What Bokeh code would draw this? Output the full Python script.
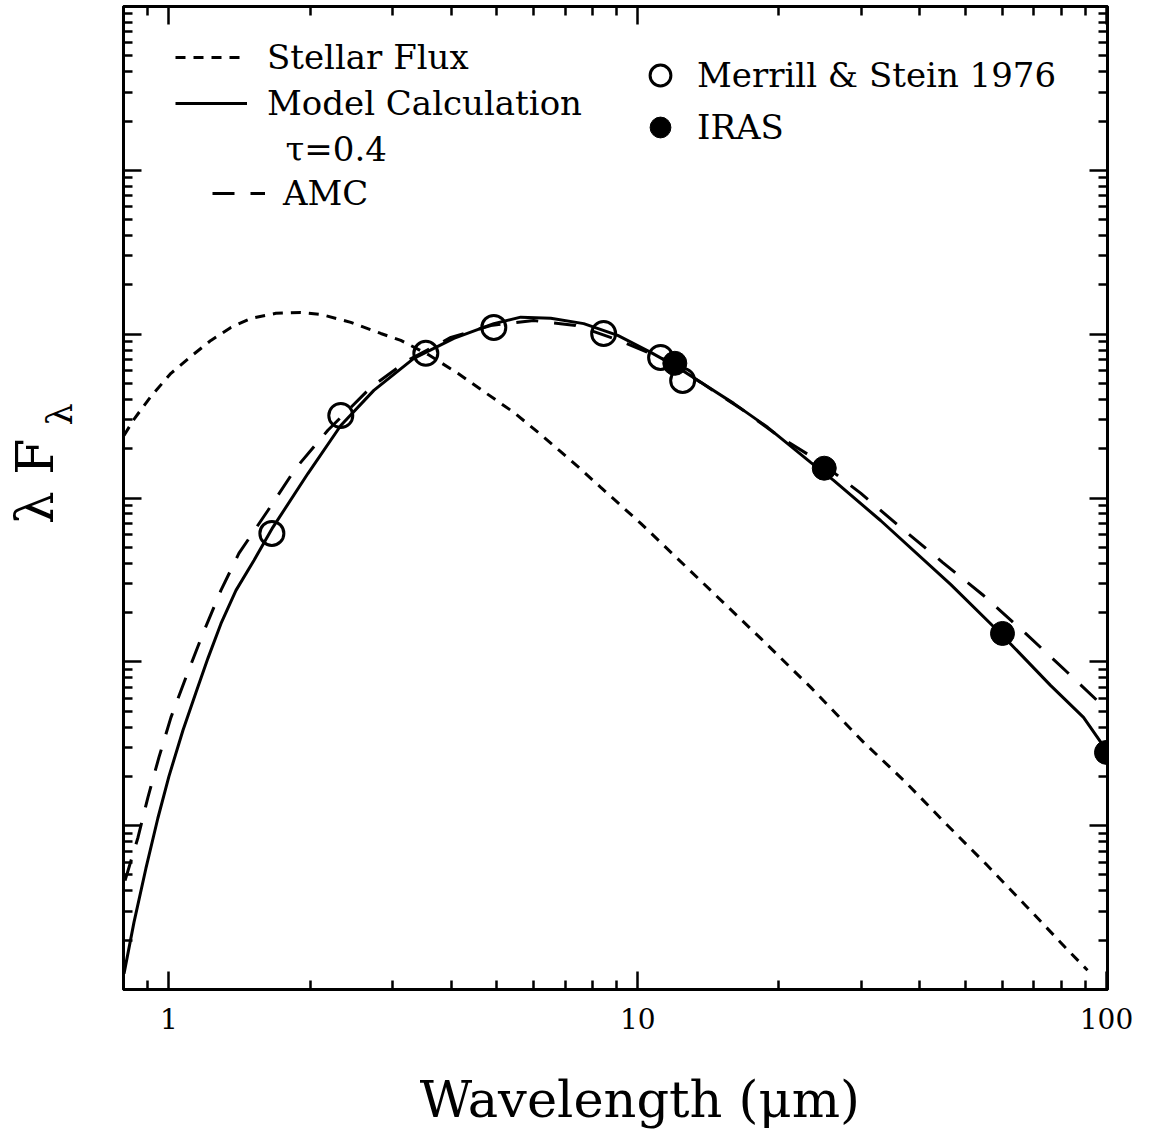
import math
from bokeh.plotting import figure
from bokeh.models import (Range1d, LogAxis, FixedTicker, CustomJSTickFormatter,
                          Legend, LegendItem, Label)
from bokeh.embed import file_html
from bokeh.resources import INLINE

# ---------------- data (wavelength in micron, lambda*F_lambda in arbitrary units) ----
sf_wl = [0.802, 0.842, 0.915, 1.01, 1.114, 1.229, 1.356, 1.496, 1.691, 1.911,
         2.109, 2.444, 2.831, 3.124, 3.566, 4.133, 4.626, 5.44, 6.21, 6.85,
         7.56, 8.34, 9.20, 10.15, 13.6, 18.3, 23.4, 30.2, 37.3, 45.4,
         55.2, 67.2, 81.8, 91.1]
sf_flux = [2.41e-2, 3.02e-2, 4.17e-2, 5.77e-2, 7.31e-2, 9.16e-2, 0.110, 0.1247, 0.134, 0.1358,
           0.132, 0.118, 0.101, 9.16e-2, 7.53e-2, 5.77e-2, 4.60e-2, 3.33e-2, 2.44e-2, 1.92e-2,
           1.50e-2, 1.16e-2, 9.02e-3, 7.00e-3, 3.14e-3, 1.39e-3, 6.98e-4, 3.27e-4, 1.84e-4, 1.03e-4,
           5.87e-5, 3.26e-5, 1.80e-5, 1.31e-5]

model_wl = [0.802, 0.842, 0.893, 0.947, 1.0, 1.071, 1.142, 1.211, 1.291, 1.39,
            1.518, 1.666, 1.979, 2.326, 2.736, 3.33, 4.053, 4.932, 5.629, 6.524,
            7.671, 9.066, 10.66, 12.17, 13.63, 16.02, 18.93, 23.38, 26.18, 32.97,
            46.5, 59.43, 75.96, 89.33, 100.0]
model_flux = [1.25e-5, 2.56e-5, 5.48e-5, 1.11e-4, 2.00e-4, 3.81e-4, 6.50e-4, 1.05e-3, 1.71e-3, 2.73e-3,
              4.16e-3, 6.62e-3, 1.41e-2, 2.77e-2, 4.54e-2, 7.11e-2, 9.42e-2, 0.116, 0.127, 0.125,
              0.116, 9.84e-2, 7.74e-2, 6.27e-2, 5.08e-2, 3.78e-2, 2.70e-2, 1.65e-2, 1.28e-2, 7.29e-3,
              2.97e-3, 1.49e-3, 7.18e-4, 4.58e-4, 2.88e-4]

amc_wl = [0.806, 0.859, 0.902, 0.952, 1.01, 1.087, 1.182, 1.291, 1.41, 1.626,
          1.865, 2.183, 2.696, 3.234, 3.994, 4.86, 6.0, 7.375, 8.889, 11.19,
          13.63, 16.58, 19.89, 24.56, 29.89, 36.37, 44.7, 54.67, 67.2, 82.58, 99.5]
amc_flux = [4.62e-5, 8.47e-5, 1.49e-4, 2.61e-4, 4.58e-4, 8.04e-4, 1.49e-3, 2.73e-3, 4.59e-3, 8.39e-3,
            1.52e-2, 2.59e-2, 4.73e-2, 6.92e-2, 9.55e-2, 0.113, 0.121, 0.113, 9.42e-2, 7.21e-2,
            5.08e-2, 3.52e-2, 2.41e-2, 1.65e-2, 1.07e-2, 6.62e-3, 4.05e-3, 2.54e-3, 1.49e-3, 8.61e-4,
            5.20e-4]

ms_wl = [1.658, 2.326, 3.532, 4.932, 8.46, 11.19, 12.47]
ms_flux = [6.08e-3, 3.19e-2, 7.64e-2, 0.110, 0.101, 7.21e-2, 5.22e-2]

iras_wl = [12, 25, 60, 100]
iras_flux = [6.64e-2, 1.52e-2, 1.49e-3, 2.80e-4]

x_major = [1, 10, 100]
y_decades = list(range(-5, 2))

FONT = "DejaVu Serif"
NBSP = "\u00a0"

# ---------------- figure ----------------
p = figure(width=1149, height=1133, x_axis_type="log", y_axis_type="log",
           x_range=Range1d(0.8, 100.5), y_range=Range1d(1e-5, 10),
           output_backend="svg", toolbar_location=None,
           min_border_left=123, min_border_right=42, min_border_top=6, min_border_bottom=144)
p.grid.visible = False
p.background_fill_color = "white"
p.border_fill_color = "white"
p.outline_line_color = "black"
p.outline_line_width = 3

bottom_ax = p.below[0]
left_ax = p.left[0]

xticker = FixedTicker(ticks=x_major,
                      minor_ticks=[0.9] + [k * 10.0 ** d for d in (0, 1) for k in range(2, 10)])
yticker = FixedTicker(ticks=[10.0 ** d for d in y_decades],
                      minor_ticks=[k * 10.0 ** d for d in y_decades[:-1] for k in range(2, 10)])

top_ax = LogAxis()
right_ax = LogAxis()
p.add_layout(top_ax, "above")
p.add_layout(right_ax, "right")

for ax, tk in [(bottom_ax, xticker), (top_ax, xticker), (left_ax, yticker), (right_ax, yticker)]:
    ax.ticker = tk
    ax.axis_line_width = 3
    ax.axis_line_color = "black"
    ax.major_tick_in = 18
    ax.major_tick_out = 0
    ax.minor_tick_in = 9
    ax.minor_tick_out = 0
    ax.major_tick_line_width = 2.5
    ax.minor_tick_line_width = 2.5
    ax.major_tick_line_color = "black"
    ax.minor_tick_line_color = "black"

for ax in (top_ax, left_ax, right_ax):
    ax.formatter = CustomJSTickFormatter(code="return ''")
    ax.major_label_standoff = 0
    ax.major_label_text_font_size = "0px"

bottom_ax.formatter = CustomJSTickFormatter(code="return String(Math.round(tick))")
bottom_ax.major_label_text_font = FONT
bottom_ax.major_label_text_font_size = "28px"
bottom_ax.major_label_text_color = "black"
bottom_ax.major_label_standoff = 18
bottom_ax.axis_label = NBSP * 3 + "Wavelength (μm)"
bottom_ax.axis_label_standoff = 38
bottom_ax.axis_label_text_font = FONT
bottom_ax.axis_label_text_font_size = "51px"
bottom_ax.axis_label_text_font_style = "normal"
bottom_ax.axis_label_text_color = "black"

# y-axis title: "λ F" with a subscript λ (the subscript is carried by a bare helper axis)
label_ax = LogAxis(ticker=FixedTicker(ticks=[0.0324], minor_ticks=[]),
                   formatter=CustomJSTickFormatter(code="return 'λ'"),
                   axis_line_color=None, major_tick_line_color=None, minor_tick_line_color=None,
                   major_tick_in=0, major_tick_out=0, minor_tick_in=0, minor_tick_out=0,
                   major_label_orientation="parallel", major_label_standoff=43,
                   major_label_text_font=FONT, major_label_text_font_size="35px",
                   major_label_text_color="black",
                   axis_label=NBSP + NBSP + "λ F", axis_label_standoff=-27,
                   axis_label_text_font=FONT, axis_label_text_font_size="52px",
                   axis_label_text_font_style="normal", axis_label_text_color="black")
p.add_layout(label_ax, "left")

# ---------------- curves & points ----------------
r_sf = p.line(sf_wl, sf_flux, line_color="black", line_width=3, line_dash="10 8")
r_model = p.line(model_wl, model_flux, line_color="black", line_width=3)
r_amc = p.line(amc_wl, amc_flux, line_color="black", line_width=3, line_dash="22 16")
r_ms = p.scatter(ms_wl, ms_flux, marker="circle", size=24, fill_alpha=0,
                 line_color="black", line_width=3)
r_iras = p.scatter(iras_wl, iras_flux, marker="circle", size=24,
                   fill_color="black", line_color="black")

# ---------------- legends ----------------
def make_legend(items, loc, gw, gh, spacing, standoff):
    return Legend(items=items, location=loc, glyph_width=gw, glyph_height=gh,
                  label_height=gh, spacing=spacing, label_standoff=standoff,
                  padding=0, margin=0, border_line_color=None, background_fill_alpha=0,
                  label_text_font=FONT, label_text_font_size="34px",
                  label_text_color="black")

legA = make_legend([LegendItem(label="Stellar Flux", renderers=[r_sf]),
                    LegendItem(label="Model Calculation", renderers=[r_model])],
                   (52, 866), 72, 40, 6, 20)
legB = make_legend([LegendItem(label="AMC", renderers=[r_amc])],
                   (89, 776), 53, 40, 6, 18)
legC = make_legend([LegendItem(label="Merrill & Stein 1976", renderers=[r_ms]),
                    LegendItem(label="IRAS", renderers=[r_iras])],
                   (509, 836), 56, 52, 0, 9)
for lg in (legA, legB, legC):
    p.add_layout(lg)

p.add_layout(Label(x=162, y=841, x_units="screen", y_units="screen", text="τ=0.4",
                   text_font=FONT, text_font_size="34px", text_baseline="middle",
                   text_align="left", text_color="black"))

open("out.html", "w").write(file_html(p, INLINE))
